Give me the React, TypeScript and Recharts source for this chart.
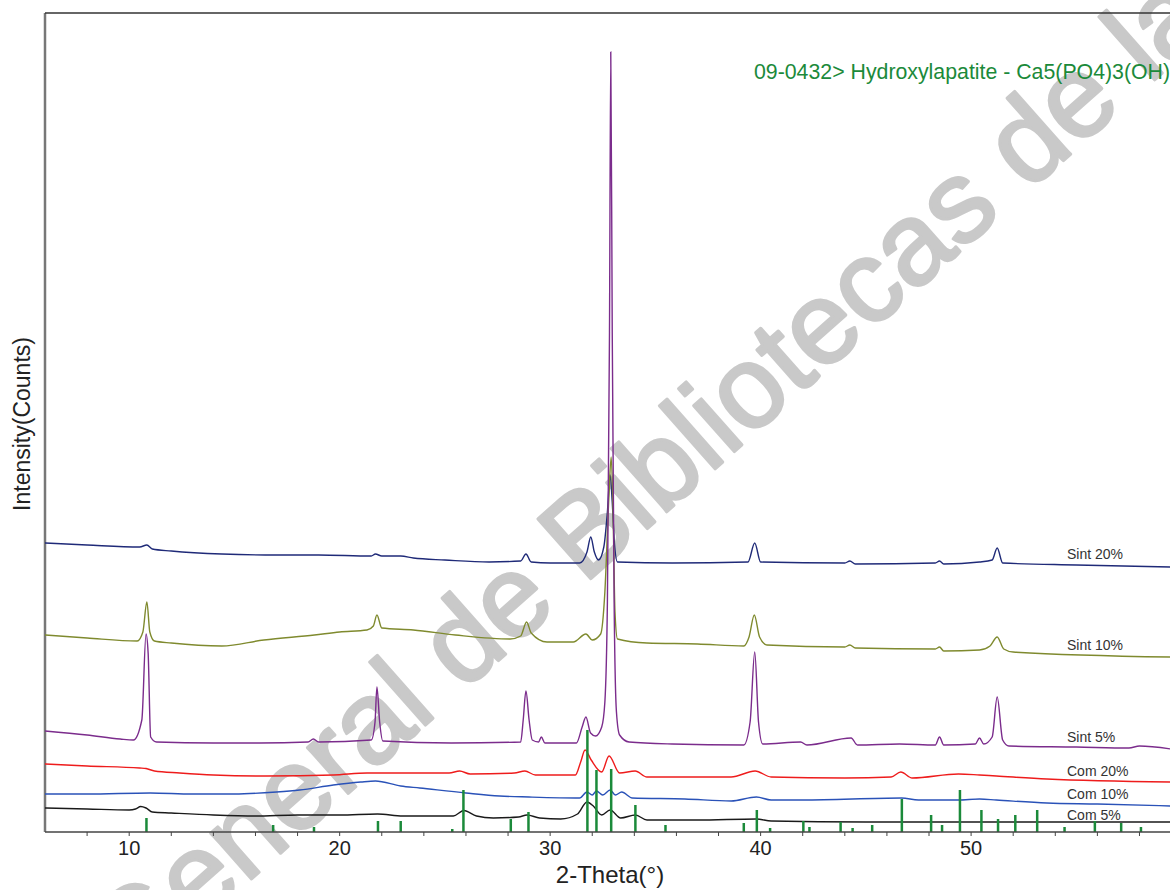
import React from "react"
import { LineChart, Line, XAxis, YAxis, ReferenceLine } from "recharts"

type Pt = [number, number]

// 2-Theta (deg) vs intensity, traces stacked with their own offsets
const sint20: Pt[] = [
  [6, 289], [8, 287], [10.5, 285], [10.84, 287], [11.1, 283], [12, 281], [14.4, 278], [17, 277],
  [19, 277], [21.5, 276], [21.7, 278], [22.0, 276], [22.9, 276], [23.5, 274], [25, 272], [27.1, 270],
  [28.6, 271], [28.85, 278], [29.1, 270], [30, 269], [31.4, 269], [31.75, 280], [31.93, 295],
  [32.1, 280], [32.3, 272], [32.55, 285], [32.72, 320], [32.85, 357], [32.95, 330], [33.05, 290],
  [33.2, 270], [35.8, 269], [39.4, 270], [39.72, 289], [40.0, 270], [44, 269], [44.24, 271],
  [44.5, 268], [48.3, 269], [48.5, 271], [48.7, 268], [50.4, 270], [51.0, 272], [51.24, 284],
  [51.5, 269], [55, 267], [59.5, 265],
]

const sint10: Pt[] = [
  [6, 197], [8, 194], [10.38, 191], [10.65, 200], [10.84, 230], [10.98, 200], [11.2, 191], [12, 189],
  [14.4, 186], [16.4, 192], [18.8, 197], [20, 200], [21.3, 202], [21.6, 206], [21.77, 217],
  [22.0, 204], [23.5, 202], [25.5, 197], [28.1, 193], [28.6, 196], [28.88, 210], [29.1, 199],
  [29.85, 190], [31.1, 190], [31.7, 198], [32.0, 192], [32.4, 198], [32.6, 240], [32.78, 330],
  [32.9, 375], [32.98, 330], [33.08, 220], [33.2, 193], [34.6, 189], [37, 188], [39.2, 186],
  [39.45, 195], [39.7, 217], [39.95, 195], [40.3, 187], [44, 185], [44.24, 187], [44.5, 184],
  [48.3, 183], [48.5, 185], [48.7, 181], [50.4, 182], [50.9, 186], [51.24, 195], [51.55, 183],
  [52, 180], [59.5, 175],
]

const sint5: Pt[] = [
  [6, 101], [8, 97], [9.57, 93], [10.2, 92], [10.6, 112], [10.8, 198], [10.9, 179], [11.02, 95],
  [11.3, 90], [14, 89], [16.2, 89], [18.5, 90], [18.75, 93], [19, 90], [21.5, 92], [21.68, 110],
  [21.77, 145], [21.9, 110], [22.05, 91], [25.3, 89], [28.6, 90], [28.72, 112], [28.85, 141],
  [29.0, 112], [29.15, 92], [29.45, 90], [29.58, 95], [29.75, 89], [31.25, 89], [31.52, 105],
  [31.7, 115], [31.92, 99], [32.16, 96], [32.45, 105], [32.6, 130], [32.72, 230], [32.82, 500],
  [32.88, 780], [32.95, 500], [33.04, 230], [33.15, 120], [33.3, 97], [33.75, 90], [35.8, 88],
  [39.2, 87], [39.5, 110], [39.72, 180], [39.9, 110], [40.1, 88], [41.9, 90], [42.2, 87],
  [44.3, 94], [44.6, 87], [46.6, 88], [48.3, 87], [48.5, 95], [48.7, 87], [50.2, 88], [50.4, 94],
  [50.6, 88], [51.0, 95], [51.24, 135], [51.5, 92], [51.8, 86], [55, 85], [57.5, 84], [58, 86],
  [59.5, 83],
]

const com20: Pt[] = [
  [6, 68], [8, 66], [10.5, 64], [10.8, 63.5], [11.2, 61], [12.4, 59], [14, 57], [16.5, 56],
  [19.7, 57], [21.3, 59], [22.9, 59], [25.2, 59], [25.7, 61], [26.2, 58], [28.3, 59], [28.8, 61],
  [29.3, 57], [31.2, 57], [31.45, 70], [31.66, 82], [31.95, 72], [32.45, 60], [32.8, 76],
  [33.3, 59], [34.04, 61], [34.6, 55], [38.6, 55], [39.74, 61], [40.5, 55], [44, 54], [46.2, 55],
  [46.66, 60], [47.2, 54], [49.4, 58], [50.4, 57], [51.2, 56], [53.6, 53], [59.5, 50],
]

const com10: Pt[] = [
  [6, 38], [8, 38], [11, 39], [13, 38], [15, 38], [17, 40], [18.1, 42], [19.7, 47], [21, 50],
  [21.7, 51], [22.9, 46], [23.8, 44], [26, 39], [27.6, 36], [29, 35], [31.4, 34], [31.75, 40],
  [32.0, 37], [32.2, 41], [32.5, 37], [32.85, 42], [33.1, 37], [33.4, 40], [33.9, 34], [36.4, 33],
  [38.6, 31], [39.8, 35], [40.5, 32], [42, 32], [46.7, 34], [47.5, 32], [49.4, 32], [50.4, 33],
  [51.2, 32], [53.6, 29], [56, 28], [59.5, 26],
]

const com5: Pt[] = [
  [6, 24], [8, 23], [10, 22], [10.3, 23], [10.55, 25.5], [10.8, 24], [11.1, 20], [12, 19],
  [14, 17], [16, 16], [18, 17], [20, 17], [21.8, 18], [23, 16], [25.4, 16], [25.9, 21.5],
  [26.5, 16], [27.3, 14], [28.5, 15], [28.9, 17], [29.5, 14], [30.5, 13], [31.3, 18], [31.75, 30],
  [32.05, 26], [32.45, 17], [32.85, 22], [33.35, 14], [34.05, 17], [34.6, 12], [37, 12],
  [39.8, 13], [40.5, 11], [45, 10], [50, 10], [59.5, 10],
]

// 09-0432 hydroxylapatite reference pattern: position, stick height
const refSticks: Pt[] = [
  [10.82, 14], [16.84, 7], [18.78, 5], [21.82, 11], [22.9, 11], [25.35, 3], [25.88, 42],
  [28.13, 13], [28.97, 20], [31.77, 102], [32.2, 62], [32.9, 63], [34.05, 27], [35.48, 7],
  [39.2, 9], [39.82, 22], [40.45, 4], [42.03, 11], [42.32, 5], [43.8, 10], [44.37, 4], [45.3, 7],
  [46.71, 33], [48.1, 17], [48.62, 7], [49.47, 42], [50.49, 22], [51.28, 13], [52.1, 17],
  [53.14, 22], [54.44, 5], [55.88, 11], [57.13, 9], [58.07, 5],
]

const xTicks = [8, 10, 12, 14, 16, 18, 20, 22, 24, 26, 28, 30, 32, 34, 36, 38, 40, 42, 44, 46, 48, 50, 52, 54, 56, 58]

const series = [
  { name: "Sint 20%", pts: sint20, color: "#1f2a78", labelY: 559 },
  { name: "Sint 10%", pts: sint10, color: "#7f8a2e", labelY: 650 },
  { name: "Sint 5%", pts: sint5, color: "#7b2c8c", labelY: 742 },
  { name: "Com 20%", pts: com20, color: "#ee1c1c", labelY: 776 },
  { name: "Com 10%", pts: com10, color: "#2a52b8", labelY: 799 },
  { name: "Com 5%", pts: com5, color: "#1a1a1a", labelY: 820 },
]

const FONT = "'Liberation Sans', Arial, sans-serif"
const GREEN = "#1b8a3a"

export default function App() {
  return (
    <div style={{ position: "absolute", left: 0, top: 0, width: 1170, height: 890, overflow: "hidden", background: "#fff", fontFamily: FONT }}>
      {/* watermark sits behind the data */}
      <svg width={1170} height={890} style={{ position: "absolute", left: 0, top: 0 }}>
        <text
          x={673}
          y={506}
          textAnchor="middle"
          fontSize={116}
          fill="#c9c9c9"
          stroke="#c9c9c9"
          strokeWidth={3}
          strokeLinejoin="round"
          fontFamily={FONT}
          transform="rotate(-41.5, 673, 506)"
        >
          General de Bibliotecas de la
        </text>
      </svg>

      <div style={{ position: "absolute", left: 0, top: 0 }}>
        <LineChart width={1170} height={890} margin={{ top: 13, right: 0, left: 45, bottom: 0 }}>
          <XAxis
            type="number"
            dataKey="x"
            domain={[6, 59.45]}
            allowDataOverflow
            ticks={xTicks}
            interval={0}
            tickFormatter={(v: number) => (v % 10 === 0 ? String(v) : "")}
            tickSize={4}
            tickMargin={5}
            height={58}
            axisLine={{ stroke: "#444", strokeWidth: 1.5 }}
            tickLine={{ stroke: "#444" }}
            tick={{ fontSize: 20, fill: "#222", fontFamily: FONT }}
          />
          <YAxis type="number" domain={[0, 819]} hide allowDataOverflow />
          <ReferenceLine x={6} stroke="#777" strokeWidth={2.5} />
          <ReferenceLine y={819} stroke="#333" strokeWidth={1.5} />
          {series.map((s) => (
            <Line
              key={s.name}
              data={s.pts.map(([x, y]) => ({ x, y }))}
              dataKey="y"
              type="monotone"
              stroke={s.color}
              strokeWidth={1.4}
              dot={false}
              activeDot={false}
              isAnimationActive={false}
            />
          ))}
          {refSticks.map(([x, h]) => (
            <ReferenceLine
              key={x}
              segment={[{ x, y: 0 }, { x, y: h }]}
              stroke={GREEN}
              strokeWidth={2.5}
            />
          ))}
        </LineChart>
      </div>

      <svg width={1170} height={890} style={{ position: "absolute", left: 0, top: 0, pointerEvents: "none" }}>
        <text x={30} y={424} textAnchor="middle" fontSize={23} fill="#222" transform="rotate(-90, 30, 424)">
          Intensity(Counts)
        </text>
        <text x={610} y={883} textAnchor="middle" fontSize={24} fill="#222">
          2-Theta(°)
        </text>
        <text x={754} y={79} fontSize={21.3} fill={GREEN}>
          09-0432&gt; Hydroxylapatite - Ca5(PO4)3(OH)
        </text>
        {series.map((s) => (
          <text key={s.name} x={1067} y={s.labelY} fontSize={14} fill="#333">
            {s.name}
          </text>
        ))}
      </svg>
    </div>
  )
}
